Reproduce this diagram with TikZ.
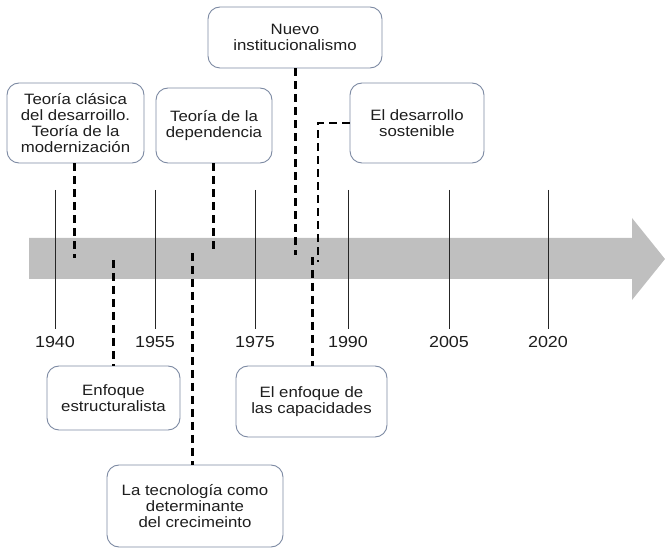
\documentclass[tikz,border=0pt]{standalone}
\usepackage{fontspec}
\setmainfont{Liberation Sans}[FakeStretch=1.12]
\definecolor{bandgray}{HTML}{BFBFBF}
\definecolor{boxline}{HTML}{7D8AA3}
\definecolor{txt}{HTML}{1E1E1E}
\begin{document}
\begin{tikzpicture}[x=1pt,y=-1pt,
  every node/.style={text=txt,font=\fontsize{15}{16}\selectfont,inner sep=0pt},
  tbox/.style={draw=boxline,line width=0.9pt,rounded corners=12pt,fill=white,align=center},
  tick/.style={draw=black!85,line width=0.8pt},
  dline/.style={draw=black,line width=3pt,dash pattern=on 8pt off 5pt},
  yr/.style={font=\fontsize{16}{16}\selectfont}]
\useasboundingbox (0,0) rectangle (665,548);
% arrow band
\fill[bandgray] (29,238) -- (632,238) -- (632,218) -- (665,259) -- (632,300) -- (632,279) -- (29,279) -- cycle;
% ticks and years
\foreach \xx/\yy [count=\i] in {55/1940,155/1955,255/1975,348/1990,449/2005,548/2020}{
  \coordinate (t\i) at (\xx,190);
  \node[yr] (y\i) at (\xx,342) {\yy};
  \draw[tick] (t\i) -- (\xx,329);
}
% boxes
\node[tbox,minimum width=137pt,minimum height=80pt] (b1) at (75.5,123) {Teoría clásica\\del desarroillo.\\Teoría de la\\modernización};
\node[tbox,minimum width=116pt,minimum height=75pt] (b2) at (214,125.5) {Teoría de la\\dependencia};
\node[tbox,minimum width=174pt,minimum height=61pt] (b3) at (295,37.5) {Nuevo\\institucionalismo};
\node[tbox,minimum width=134pt,minimum height=80pt] (b4) at (417,123) {El desarrollo\\sostenible};
\node[tbox,minimum width=133pt,minimum height=64pt] (b5) at (113.5,398) {Enfoque\\estructuralista};
\node[tbox,minimum width=151pt,minimum height=71pt] (b6) at (311.5,401.5) {El enfoque de\\las capacidades};
\node[tbox,minimum width=176pt,minimum height=82pt] (b7) at (195,506) {La tecnología como\\determinante\\del crecimeinto};
% connector end points
\coordinate (e1) at (74,258);
\coordinate (e5) at (113,260);
\coordinate (e2) at (213,252);
\coordinate (e7) at (192,253);
\coordinate (e3) at (295,255);
\coordinate (k4) at (318,123);
\coordinate (e4) at (318,262);
\coordinate (e6) at (312,257);
% dashed connectors
\draw[dline] (b1.south -| e1) -- (e1);
\draw[dline] (e5) -- (b5.north -| e5);
\draw[dline] (b2.south -| e2) -- (e2);
\draw[dline] (e7) -- (b7.north -| e7);
\draw[dline] (b3.south -| e3) -- (e3);
\draw[dline,line width=2.5pt] (b4.west |- k4) -- (k4) -- (e4);
\draw[dline] (e6) -- (b6.north -| e6);
\end{tikzpicture}
\end{document}
